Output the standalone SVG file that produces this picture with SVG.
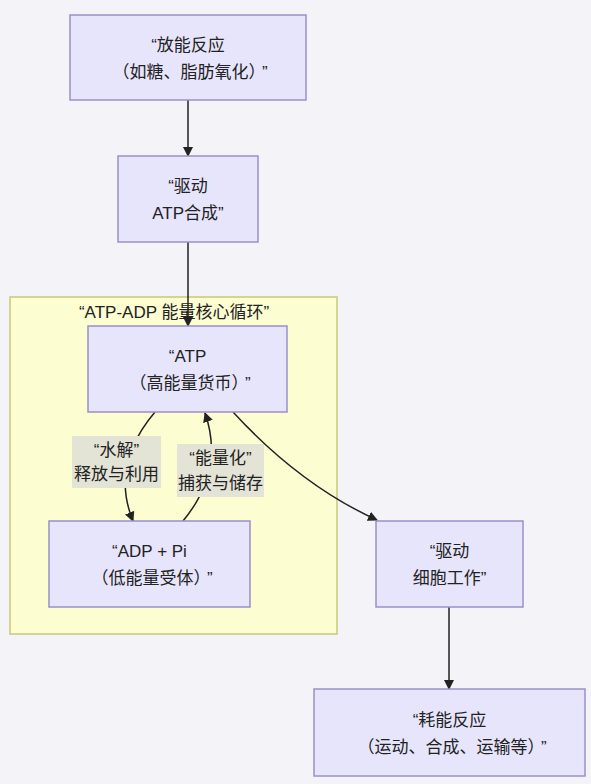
<svg xmlns="http://www.w3.org/2000/svg" width="591" height="784" viewBox="0 0 591 784">
<defs>
<marker id="arr" viewBox="0 0 10 10" refX="9" refY="5" markerWidth="10" markerHeight="10" markerUnits="userSpaceOnUse" orient="auto">
<path d="M0,0 L10,5 L0,10 z" fill="#222"/>
</marker>
<style>
.node rect{fill:#e7e5fb;stroke:#9a8fc8;stroke-width:1.5}
text{font-family:"Liberation Sans","Noto Sans CJK SC",sans-serif;font-size:17px;fill:#222;text-anchor:middle;dominant-baseline:central}
.edge{fill:none;stroke:#222;stroke-width:1.5;marker-end:url(#arr)}
.lbl rect{fill:#e3e3d6;stroke:none}
</style>
</defs>
<rect width="591" height="784" fill="#f4f4f8"/>
<g id="cluster">
<rect x="10" y="297" width="327" height="337" fill="#fdfdd2" stroke="#c8c87a" stroke-width="1.5"/>
<text x="174" y="312">“ATP-ADP 能量核心循环”</text>
</g>
<g id="connectors">
<path class="edge" d="M188,100 L188,156"/>
<path class="edge" d="M188,242 L188,326"/>
<path class="edge" d="M155,412 Q110,465 133,521"/>
<path class="edge" d="M183,521 Q225,470 205,413"/>
<path class="edge" d="M233,412 Q300,485 377,520"/>
<path class="edge" d="M449,607 L449,689"/>
</g>
<g id="label-hydrolysis" class="lbl">
<rect x="72" y="436" width="89" height="52"/>
<text x="116.5" y="450">“水解”</text>
<text x="116.5" y="474">释放与利用</text>
</g>
<g id="label-capture" class="lbl">
<rect x="177" y="444" width="87" height="53"/>
<text x="220.5" y="458">“能量化”</text>
<text x="220.5" y="483">捕获与储存</text>
</g>
<g id="n-release" class="node">
<rect x="70" y="15" width="236" height="85"/>
<text x="188" y="45">“放能反应</text>
<text x="190" y="72">（如糖、脂肪氧化）<tspan dx="5">”</tspan></text>
</g>
<g id="n-drive-atp" class="node">
<rect x="118" y="156" width="140" height="86"/>
<text x="188" y="186">“驱动</text>
<text x="188" y="213">ATP合成”</text>
</g>
<g id="n-atp" class="node">
<rect x="88" y="326" width="199" height="86"/>
<text x="187.5" y="356">“ATP</text>
<text x="190" y="383">（高能量货币）<tspan dx="5">”</tspan></text>
</g>
<g id="n-adp" class="node">
<rect x="49" y="521" width="201" height="86"/>
<text x="149.5" y="551">“ADP + Pi</text>
<text x="152" y="578">（低能量受体）<tspan dx="5">”</tspan></text>
</g>
<g id="n-drive-work" class="node">
<rect x="376" y="521" width="147" height="86"/>
<text x="449.5" y="551">“驱动</text>
<text x="449.5" y="578">细胞工作”</text>
</g>
<g id="n-consume" class="node">
<rect x="314" y="689" width="271" height="87"/>
<text x="449.5" y="720">“耗能反应</text>
<text x="452" y="747">（运动、合成、运输等）<tspan dx="5">”</tspan></text>
</g>
</svg>
